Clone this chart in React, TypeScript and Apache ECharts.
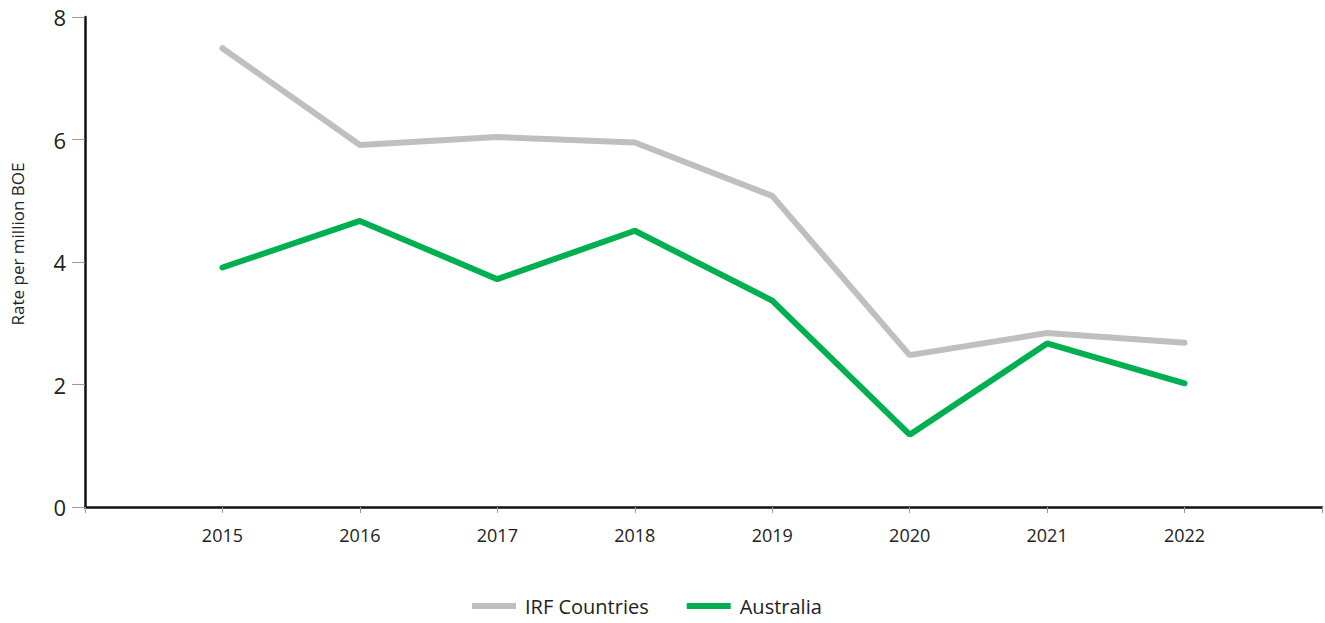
import React, { useEffect, useRef } from "react";
import * as echarts from "echarts";

const years = [2015, 2016, 2017, 2018, 2019, 2020, 2021, 2022];
const irfCountries = [7.49, 5.91, 6.04, 5.95, 5.08, 2.48, 2.84, 2.68];
const australia = [3.91, 4.67, 3.72, 4.51, 3.37, 1.18, 2.67, 2.02];
const yTicks = [0, 2, 4, 6, 8];

const FONT = "'Open Sans', 'Noto Sans', sans-serif";

export default function App() {
  const ref = useRef<HTMLDivElement>(null);
  useEffect(() => {
    if (!ref.current) return;
    const chart = echarts.init(ref.current, undefined, { renderer: "svg" });
    const pair = (arr: number[]) => years.map((y, i) => [y, arr[i]]);
    chart.setOption({
      animation: false,
      backgroundColor: "#ffffff",
      grid: { left: 85, right: 0, top: 17, bottom: 116, containLabel: false },
      legend: {
        bottom: 2,
        left: 467,
        itemWidth: 44,
        itemHeight: 6,
        itemGap: 38,
        icon: "rect",
        textStyle: { fontFamily: FONT, fontSize: 20, color: "#222", padding: [0, 0, 0, 4] },
        data: ["IRF Countries", "Australia"],
      },
      xAxis: {
        type: "value",
        min: years[0] - 1,
        max: years[years.length - 1] + 1,
        interval: 1,
        splitLine: { show: false },
        axisLine: { show: true, lineStyle: { color: "#111", width: 2.5 } },
        axisTick: { show: true, length: 6, lineStyle: { color: "#999", width: 1 } },
        axisLabel: {
          margin: 19,
          fontFamily: FONT,
          fontSize: 18,
          color: "#222",
          formatter: (v: number) => (years.includes(v) ? String(v) : ""),
        },
      },
      yAxis: {
        type: "value",
        min: yTicks[0],
        max: yTicks[yTicks.length - 1],
        interval: 2,
        splitLine: { show: false },
        axisLine: { show: true, lineStyle: { color: "#111", width: 2.5 } },
        axisTick: { show: true, length: 13, lineStyle: { color: "#999", width: 1 } },
        axisLabel: { margin: 19, fontFamily: FONT, fontSize: 22, color: "#222" },
      },
      graphic: [
        {
          type: "text",
          x: 9,
          y: 244,
          rotation: Math.PI / 2,
          style: {
            text: "Rate per million BOE",
            fontFamily: FONT,
            fontSize: 17,
            fill: "#222",
            align: "center",
            verticalAlign: "top",
          },
        },
      ],
      series: [
        {
          name: "IRF Countries",
          type: "line",
          data: pair(irfCountries),
          showSymbol: false,
          symbol: "none",
          lineStyle: { color: "#bfbfbf", width: 6, cap: "round" },
          itemStyle: { color: "#bfbfbf" },
        },
        {
          name: "Australia",
          type: "line",
          data: pair(australia),
          showSymbol: false,
          symbol: "none",
          lineStyle: { color: "#00b050", width: 6, cap: "round" },
          itemStyle: { color: "#00b050" },
        },
      ],
    });
    return () => chart.dispose();
  }, []);
  return (
    <div
      ref={ref}
      style={{ position: "fixed", left: 0, top: 0, width: 1325, height: 623 }}
    />
  );
}
